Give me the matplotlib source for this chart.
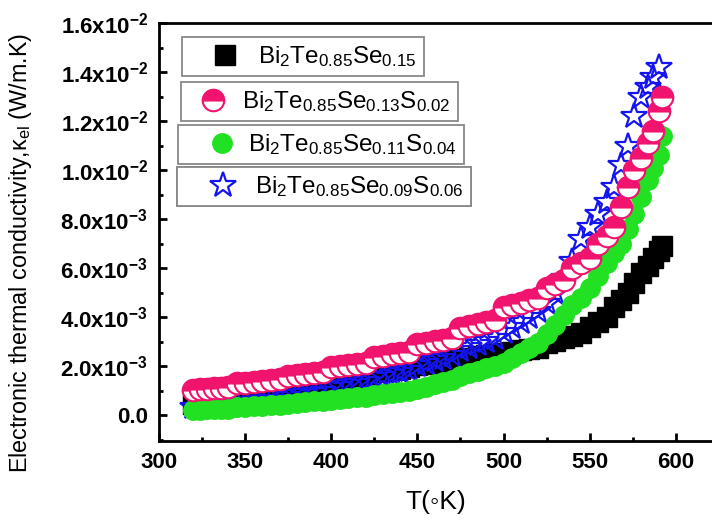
import numpy as np
import matplotlib
matplotlib.use("Agg")
from matplotlib import pyplot as plt
from matplotlib.ticker import MultipleLocator

plt.rcParams['font.family'] = ['Liberation Sans', 'DejaVu Sans']
plt.rcParams['mathtext.default'] = 'regular'

# temperature (K)
temp = [320, 324, 328, 332, 336, 340,
        345, 350, 355, 360, 365, 370, 375, 380, 385, 390, 395,
        400, 405, 410, 415, 420, 425, 430, 435, 440, 445,
        450, 455, 460, 465, 470, 475, 480, 485, 490, 495,
        500, 505, 510, 515, 520, 525, 530, 535, 540, 545,
        550, 555, 560, 564, 568, 572, 576, 580, 584, 587, 590, 592]

# electronic thermal conductivity, x1e-3 W/m.K
k_se015 = [0.45, 0.47, 0.49, 0.51, 0.53, 0.55,
           0.62, 0.66, 0.70, 0.74, 0.78, 0.82, 0.95, 1.00, 1.05, 1.10, 1.15,
           1.35, 1.40, 1.45, 1.50, 1.55, 1.75, 1.80, 1.85, 1.90, 1.95,
           2.05, 2.09, 2.13, 2.17, 2.21, 2.30, 2.35, 2.40, 2.45, 2.50,
           2.55, 2.60, 2.65, 2.70, 2.75, 2.95, 3.05, 3.15, 3.25, 3.35,
           3.60, 3.80, 4.00, 4.40, 4.70, 5.00, 5.40, 5.80, 6.10, 6.40, 6.70, 6.90]
k_s002 = [1.05, 1.07, 1.09, 1.11, 1.13, 1.15,
          1.30, 1.33, 1.36, 1.40, 1.43, 1.46, 1.62, 1.66, 1.70, 1.74, 1.78,
          1.98, 2.02, 2.06, 2.10, 2.14, 2.38, 2.43, 2.48, 2.53, 2.58,
          2.90, 2.96, 3.02, 3.08, 3.14, 3.55, 3.63, 3.71, 3.79, 3.87,
          4.40, 4.50, 4.60, 4.70, 4.80, 5.20, 5.35, 5.50, 6.00, 6.20,
          6.40, 7.00, 7.30, 7.70, 8.50, 9.30, 10.0, 10.5, 11.1, 11.6, 12.4, 13.0]
k_s004 = [0.22, 0.23, 0.24, 0.25, 0.26, 0.27,
          0.33, 0.35, 0.37, 0.39, 0.41, 0.43, 0.48, 0.51, 0.54, 0.57, 0.60,
          0.64, 0.67, 0.70, 0.73, 0.76, 0.82, 0.86, 0.90, 0.94, 0.98,
          1.08, 1.17, 1.26, 1.35, 1.44, 1.62, 1.72, 1.82, 1.92, 2.02,
          2.15, 2.35, 2.55, 2.75, 2.95, 3.30, 3.70, 4.10, 4.50, 4.80,
          5.20, 5.70, 6.20, 6.60, 7.00, 7.60, 8.20, 8.90, 9.60, 10.1, 10.6, 11.4]
k_s006 = [0.35, 0.37, 0.39, 0.41, 0.43, 0.45,
          0.52, 0.55, 0.58, 0.62, 0.65, 0.68, 0.80, 0.85, 0.90, 0.95, 1.00,
          1.15, 1.21, 1.27, 1.33, 1.39, 1.55, 1.62, 1.70, 1.78, 1.86,
          2.05, 2.15, 2.25, 2.35, 2.45, 2.65, 2.78, 2.91, 3.04, 3.17,
          3.40, 3.60, 3.80, 4.00, 4.25, 4.60, 5.00, 5.60, 6.30, 7.20,
          7.70, 8.20, 8.70, 9.30, 10.2, 11.0, 12.2, 13.0, 13.4, 13.8, 14.2, np.nan]

labels = [r'Bi$_2$Te$_{0.85}$Se$_{0.15}$',
          r'Bi$_2$Te$_{0.85}$Se$_{0.13}$S$_{0.02}$',
          r'Bi$_2$Te$_{0.85}$Se$_{0.11}$S$_{0.04}$',
          r'Bi$_2$Te$_{0.85}$Se$_{0.09}$S$_{0.06}$']

ytick_vals = [0, 2e-3, 4e-3, 6e-3, 8e-3, 10e-3, 12e-3, 14e-3, 16e-3]
ytick_labels = ['0.0', r'2.0x10$^{-3}$', r'4.0x10$^{-3}$', r'6.0x10$^{-3}$',
                r'8.0x10$^{-3}$', r'1.0x10$^{-2}$', r'1.2x10$^{-2}$',
                r'1.4x10$^{-2}$', r'1.6x10$^{-2}$']

T = np.array(temp)
fig = plt.figure(figsize=(7.12, 5.32), dpi=100)
ax = fig.add_axes([0.2233, 0.171, 0.7767, 0.7857])

h1, = ax.plot(T, np.array(k_se015) * 1e-3, 's', color='black', ms=14, mec='black', zorder=2)
h4, = ax.plot(T, np.array(k_s006) * 1e-3, '*', ms=19, mfc='none', mec='#1414f0', mew=1.6, zorder=3)
h3, = ax.plot(T, np.array(k_s004) * 1e-3, 'o', ms=14, color='#22e022', mec='#22e022', zorder=4)
h2, = ax.plot(T, np.array(k_s002) * 1e-3, 'o', ms=15.5, color='#f0146e', fillstyle='top',
              mfc='#f0146e', mfcalt='white', mec='#f0146e', mew=1.5, zorder=5)

ax.set_xlim(300, 621)
ax.set_ylim(-1.05e-3, 1.6e-2)
ax.xaxis.set_major_locator(MultipleLocator(50))
ax.xaxis.set_minor_locator(MultipleLocator(25))
ax.set_yticks(ytick_vals)
ax.set_yticklabels(ytick_labels)
ax.yaxis.set_minor_locator(MultipleLocator(1e-3))
ax.tick_params(which='both', direction='in', width=2, top=False, right=False, pad=8)
ax.tick_params(which='major', length=6, labelsize=16)
ax.tick_params(which='minor', length=3)
for lab in ax.get_xticklabels() + ax.get_yticklabels():
    lab.set_fontweight('bold')
for s in ['left', 'bottom', 'top']:
    ax.spines[s].set_linewidth(2)
ax.spines['right'].set_visible(False)

ax.set_xlabel('T(\u25e6K)', fontsize=19, labelpad=12)
ax.set_ylabel(r'Electronic thermal conductivity,$\kappa_{el}$ (W/m.K)', fontsize=16.8)
ax.yaxis.set_label_coords(-0.226, 0.449)

# four separate legend boxes, as in the original
W, H = 712, 532
pos = ax.get_position()
x0, y0 = pos.x0 * W, (1 - pos.y1) * H
aw, ah = pos.width * W, pos.height * H
boxes = [(182, 37), (181, 82), (178, 125), (177, 167)]
hlens = [2.94, 2.03, 3.02, 3.19]
hpads = [-0.11, 0.18, -0.44, -0.28]
for handle, lab, (bx, by), hl, hp in zip([h1, h2, h3, h4], labels, boxes, hlens, hpads):
    leg = ax.legend([handle], [lab], loc='upper left',
                    bbox_to_anchor=((bx - x0) / aw, 1 - (by - y0) / ah),
                    borderaxespad=0, fontsize=17.5, frameon=True, fancybox=False,
                    edgecolor='#888888', framealpha=1, borderpad=0.3,
                    handlelength=hl, handletextpad=hp)
    leg.get_frame().set_linewidth(1.3)
    ax.add_artist(leg)

fig.savefig('out.png', dpi=100)
